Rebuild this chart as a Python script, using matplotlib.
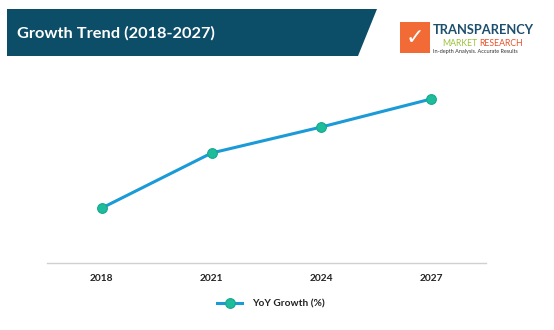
import matplotlib
matplotlib.use("Agg")
import matplotlib.pyplot as plt
from matplotlib.patches import Polygon, Rectangle

years = ["2018", "2021", "2024", "2027"]
yoy_growth = [5.5, 11.0, 13.6, 16.4]

W, H = 554, 330
plt.rcParams['font.family'] = ['Lato', 'DejaVu Sans']

fig = plt.figure(figsize=(W / 100, H / 100), dpi=100)
fig.patch.set_facecolor('white')


def px(x, y):
    # pixel coords (top-left origin) -> figure fraction
    return x / W, 1 - y / H


# header banner
banner = Polygon([px(7, 9), px(377, 9), px(358, 56), px(7, 56)],
                 closed=True, transform=fig.transFigure,
                 facecolor='#0c4d68', edgecolor='none')
fig.patches.append(banner)
fig.text(*px(17, 33), "Growth Trend (2018-2027)", color='white',
         fontsize=11.8, fontweight='bold', va='center', ha='left')

# logo
logo = Rectangle(px(400, 53), 30 / W, 31 / H, transform=fig.transFigure,
                 facecolor='#f26a35', edgecolor='none')
fig.patches.append(logo)
fig.text(*px(415, 38), "\u2713", color='white', fontsize=16,
         ha='center', va='center', family=['DejaVu Sans'])
fig.text(*px(433, 30), "TRANSPARENCY", color='#1d4f6e', fontsize=9.3,
         fontweight='bold', ha='left', va='center')
fig.text(*px(442, 43), "MARKET", color='#9cc23c', fontsize=6.3,
         ha='left', va='center')
fig.text(*px(479, 43), "RESEARCH", color='#e8532b', fontsize=6.3,
         ha='left', va='center')
fig.text(*px(433, 52), "In-depth Analysis. Accurate Results", color='#333333',
         fontsize=4.0, ha='left', va='center')

# chart
ax = fig.add_axes([47 / W, (H - 263) / H, (486 - 47) / W, (263 - 70) / H])
x = range(len(years))
ax.plot(x, yoy_growth, color='#1a9ad6', linewidth=2.2, marker='o',
        markersize=7, markerfacecolor='#1cbc9c', markeredgecolor='#17a88a',
        markeredgewidth=0.8, label='YoY Growth (%)')
ax.set_xlim(-0.5, len(years) - 0.5)
ax.set_ylim(0, 19.3)
ax.set_xticks(list(x))
ax.set_xticklabels(years, fontsize=7.3, fontweight='bold', color='#222222')
ax.tick_params(axis='x', length=0, pad=8)
ax.set_yticks([])
for s in ['top', 'right', 'left']:
    ax.spines[s].set_visible(False)
ax.spines['bottom'].set_color('#d0d0d0')
ax.spines['bottom'].set_linewidth(1)

leg = fig.legend(loc='center', bbox_to_anchor=px(271, 304), frameon=False,
                 prop={'size': 7.3, 'weight': 'bold'}, handlelength=2.4,
                 handletextpad=1.0)
for t in leg.get_texts():
    t.set_color('#222222')

fig.savefig('out.png', dpi=100)
